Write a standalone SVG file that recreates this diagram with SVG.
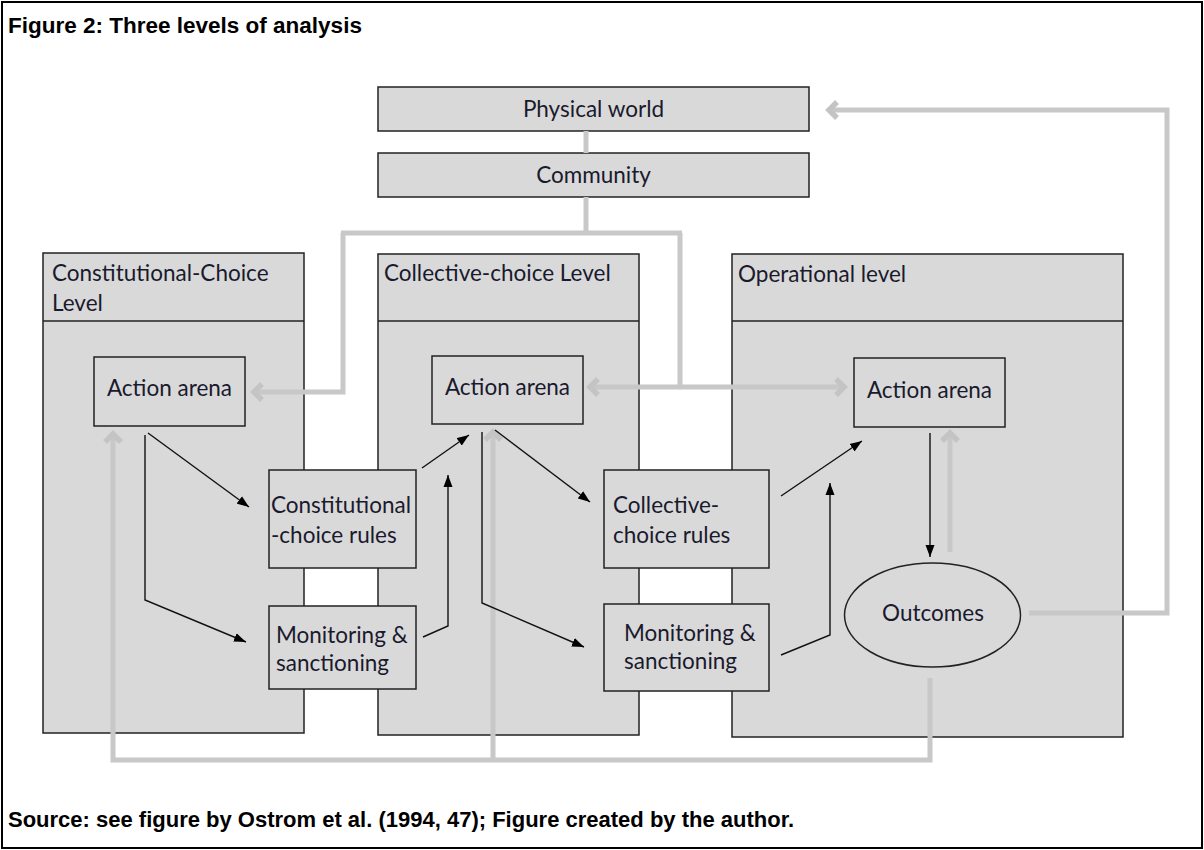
<svg xmlns="http://www.w3.org/2000/svg" width="1204" height="850" viewBox="0 0 1204 850">
<style>
.frame{fill:#ffffff;stroke:#000;stroke-width:2}
.panel{fill:#d9d9d9;stroke:#222;stroke-width:1.5}
.box{fill:#d9d9d9;stroke:#222;stroke-width:1.5}
.div{stroke:#222;stroke-width:1.5}
.t{font-family:Lato,"Open Sans",sans-serif;font-size:22.5px;fill:#1a1a2e}
.hd{font-family:"Liberation Sans",Arial,sans-serif;font-weight:bold;font-size:22px;fill:#000}
.g{fill:none;stroke:#c8c8c8;stroke-width:5}
.k{fill:none;stroke:#111;stroke-width:1.4}
</style>
<defs>
<marker id="ah" viewBox="0 0 12 10" refX="12" refY="5" markerWidth="12" markerHeight="10" markerUnits="userSpaceOnUse" orient="auto">
<path d="M0,0.5 L12,5 L0,9.5 Z" fill="#000"/>
</marker>
<marker id="gh" viewBox="-14 -12 18 24" refX="0" refY="0" markerWidth="18" markerHeight="24" markerUnits="userSpaceOnUse" orient="auto" overflow="visible">
<path d="M-9,-8 L-1,0 L-9,8" fill="none" stroke="#c4c4c4" stroke-width="5.5"/>
</marker>
</defs>
<rect class="frame" x="2" y="2" width="1200" height="846"/>
<text class="hd" x="8" y="33" style="font-size:22.5px">Figure 2: Three levels of analysis</text>
<text class="hd" x="8" y="827">Source: see figure by Ostrom et al. (1994, 47); Figure created by the author.</text>

<g id="panel-constitutional">
<rect class="panel" x="43" y="253" width="261" height="480"/>
<line class="div" x1="43" y1="321" x2="304" y2="321"/>
<text class="t" x="52" y="281">Constitutional-Choice</text>
<text class="t" x="52" y="311">Level</text>
</g>
<g id="panel-collective">
<rect class="panel" x="378" y="254" width="261" height="481"/>
<line class="div" x1="378" y1="321" x2="639" y2="321"/>
<text class="t" x="384" y="281">Collective-choice Level</text>
</g>
<g id="panel-operational">
<rect class="panel" x="732" y="254" width="391" height="483"/>
<line class="div" x1="732" y1="321" x2="1123" y2="321"/>
<text class="t" x="738" y="282">Operational level</text>
</g>

<g id="physical-world">
<rect class="box" x="378" y="87" width="431" height="44"/>
<text class="t" x="593.5" y="117" text-anchor="middle">Physical world</text>
</g>
<g id="community">
<rect class="box" x="378" y="153" width="431" height="44"/>
<text class="t" x="593.5" y="183" text-anchor="middle">Community</text>
</g>

<g id="action-arena-1">
<rect class="box" x="94" y="357" width="151" height="69"/>
<text class="t" x="169.5" y="396" text-anchor="middle">Action arena</text>
</g>
<g id="action-arena-2">
<rect class="box" x="432" y="356" width="151" height="68"/>
<text class="t" x="507.5" y="395" text-anchor="middle">Action arena</text>
</g>
<g id="action-arena-3">
<rect class="box" x="854" y="358" width="151" height="69"/>
<text class="t" x="929.5" y="398" text-anchor="middle">Action arena</text>
</g>

<g id="constitutional-rules">
<rect class="box" x="269" y="470" width="147" height="98"/>
<text class="t" x="271" y="513">Constitutional</text>
<text class="t" x="271" y="543">-choice rules</text>
</g>
<g id="monitoring-1">
<rect class="box" x="269" y="606" width="147" height="83"/>
<text class="t" x="276" y="643">Monitoring &amp;</text>
<text class="t" x="276" y="671">sanctioning</text>
</g>
<g id="collective-rules">
<rect class="box" x="604" y="470" width="165" height="98"/>
<text class="t" x="613" y="513">Collective-</text>
<text class="t" x="613" y="543">choice rules</text>
</g>
<g id="monitoring-2">
<rect class="box" x="604" y="604" width="165" height="87"/>
<text class="t" x="624" y="641">Monitoring &amp;</text>
<text class="t" x="624" y="669">sanctioning</text>
</g>
<g id="outcomes">
<ellipse class="box" cx="932.5" cy="615" rx="88" ry="52"/>
<text class="t" x="933" y="621" text-anchor="middle">Outcomes</text>
</g>

<g id="connectors">
<path class="g" d="M586,131 V153"/>
<path class="g" d="M586,197 V233"/>
<path class="g" d="M341,233 H682"/>
<path class="g" d="M343,233 V392 H253" marker-end="url(#gh)"/>
<path class="g" d="M680,233 V387"/>
<path class="g" d="M680,387 H589" marker-end="url(#gh)"/>
<path class="g" d="M680,387 H845" marker-end="url(#gh)"/>
<path class="g" d="M1029,613 H1167 V110 H828" marker-end="url(#gh)"/>
<path class="g" d="M930,678 V760 H113 V433" marker-end="url(#gh)"/>
<path class="g" d="M493,760 V431" marker-end="url(#gh)"/>
<path class="g" d="M950,552 V432" marker-end="url(#gh)"/>

<path class="k" d="M148,433 L249,507" marker-end="url(#ah)"/>
<path class="k" d="M145,435 V600 L246,642" marker-end="url(#ah)"/>
<path class="k" d="M422,468 L469,435" marker-end="url(#ah)"/>
<path class="k" d="M423,637 L448,626 V475" marker-end="url(#ah)"/>
<path class="k" d="M495,430 L590,502" marker-end="url(#ah)"/>
<path class="k" d="M482,432 V603 L584,647" marker-end="url(#ah)"/>
<path class="k" d="M781,496 L862,441" marker-end="url(#ah)"/>
<path class="k" d="M781,655 L830,635 V483" marker-end="url(#ah)"/>
<path class="k" d="M930,433 V557" marker-end="url(#ah)"/>
</g>
</svg>
